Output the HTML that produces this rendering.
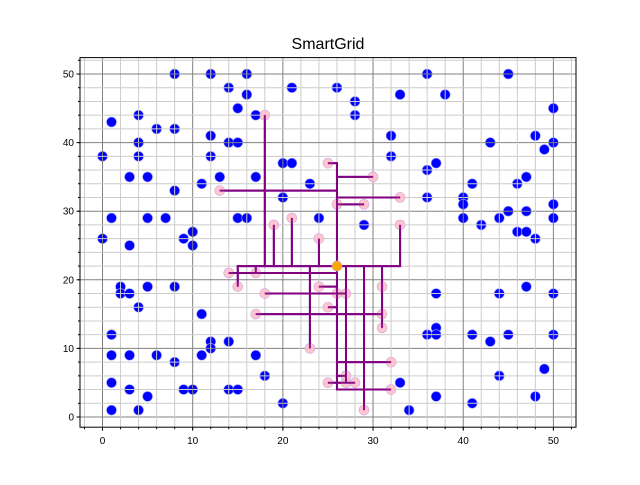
<!DOCTYPE html>
<html><head><meta charset="utf-8"><style>
body{margin:0;background:#fff;width:640px;height:480px;overflow:hidden;font-family:"Liberation Sans","DejaVu Sans",sans-serif}
</style></head><body>
<svg id="chart" width="640" height="480" xmlns="http://www.w3.org/2000/svg"></svg>
<script>
const blueX=[8,12,16,36,45,14,21,26,16,15,17,1,4,6,8,12,4,14,15,0,4,12,20,21,3,5,13,17,11,23,8,20,1,5,7,15,16,24,9,10,0,3,10,
28,28,33,38,50,32,48,43,50,49,32,36,37,41,46,47,36,40,40,50,40,44,50,45,47,29,42,46,47,48,
2,2,3,5,8,4,11,12,12,14,1,1,3,6,11,17,8,18,1,3,9,10,14,15,5,20,1,4,
33,34,37,37,36,37,41,43,45,50,49,44,37,41,48,47,44,50];
const blueY=[50,50,50,50,50,48,48,48,47,45,44,43,44,42,42,41,40,40,40,38,38,38,37,37,35,35,35,35,34,34,33,32,29,29,29,29,29,29,26,27,26,25,25,
46,44,47,47,45,41,41,40,40,39,38,36,37,34,34,35,32,32,31,31,29,29,29,30,30,28,28,27,27,26,
19,18,18,19,19,16,15,11,10,11,12,9,9,9,9,9,8,6,5,4,4,4,4,4,3,2,1,1,
5,1,18,13,12,12,12,11,12,12,7,6,3,2,3,19,18,18];
const pinkX=[18,13,25,30,33,26,29,19,21,24,33,14,17,15,18,24,26,27,25,17,31,31,31,23,32,32,25,27,28,27,29];
const pinkY=[44,33,37,35,32,31,31,28,29,26,28,21,21,19,18,19,18,18,16,15,19,15,13,10,8,4,5,5,5,6,1];
const hubX=[26], hubY=[22];
// wire segments: x1,y1,x2,y2
const segX1=[18,13,25,26,26,26,26,19,21,24,33,15,14,17,15,18,24,25,17,31,23,26,27,29,26,26,25,26];
const segY1=[44,33,37,37,35,32,31,28,29,26,28,22,21,22,22,18,19,16,15,22,22,22,22,22,8,4,5,6];
const segX2=[18,26,26,26,30,33,29,19,21,24,33,33,26,17,15,27,26,26,31,31,23,26,27,29,32,32,28,27];
const segY2=[22,33,37,22,35,32,31,22,22,22,22,22,21,21,19,18,19,16,15,13,10,4,5,1,8,4,5,6];
const xTicks=[0,10,20,30,40,50];
const yTicks=[0,10,20,30,40,50];

const NS="http://www.w3.org/2000/svg";
const svg=document.getElementById('chart');
const L=80,R=576,T=57.6,B=427.2;
const sx=v=>102.5+v*9.018;
const sy=v=>417-v*6.86;
function mk(tag,at,parent){const e=document.createElementNS(NS,tag);for(const k in at)e.setAttribute(k,at[k]);(parent||svg).appendChild(e);return e;}

const title=mk('text',{x:328,y:49,'text-anchor':'middle','font-size':16,fill:'#000'});


title.textContent='SmartGrid';

const gB=mk('g',{});


blueX.forEach((x,i)=>{const c=mk('circle',{cx:sx(x),cy:sy(blueY[i]),r:5,fill:'#0000ff',stroke:'#9b9bff','stroke-width':0.6},gB);

});

const gG=mk('g',{});


for(let v=-2;v<=52;v+=2){const major=v%10===0;
 const st=major?'#808080':'#cccccc',w=major?1:1;
 if(sx(v)>L&&sx(v)<R) mk('line',{x1:sx(v),x2:sx(v),y1:T,y2:B,stroke:st,'stroke-width':w},gG);
 if(sy(v)>T&&sy(v)<B) mk('line',{y1:sy(v),y2:sy(v),x1:L,x2:R,stroke:st,'stroke-width':w},gG);}

const gW=mk('g',{});


segX1.forEach((x,i)=>{const l=mk('line',{x1:sx(x),y1:sy(segY1[i]),x2:sx(segX2[i]),y2:sy(segY2[i]),stroke:'#800080','stroke-width':2,'stroke-linecap':'square'},gW);

});

const gP=mk('g',{});


pinkX.forEach((x,i)=>{const c=mk('circle',{cx:sx(x),cy:sy(pinkY[i]),r:5,fill:'#ffc0cb','fill-opacity':0.9,stroke:'#c8a8e8','stroke-width':0.6},gP);

});
// redraw wire ends over pink (wires visible over markers)
segX1.forEach((x,i)=>{const l=mk('line',{x1:sx(x),y1:sy(segY1[i]),x2:sx(segX2[i]),y2:sy(segY2[i]),stroke:'#800080','stroke-width':2,'stroke-opacity':0.9},gP);

});
hubX.forEach((x,i)=>{const c=mk('circle',{cx:sx(x),cy:sy(hubY[i]),r:5,fill:'#ffa500',stroke:'#c8a8e8','stroke-width':0.6});

});

const frame=mk('rect',{x:L,y:T,width:R-L,height:B-T,fill:'none',stroke:'#000','stroke-width':1});



const gA=mk('g',{});


for(let v=-2;v<=52;v+=2){
 if(sx(v)>L&&sx(v)<R) mk('line',{x1:sx(v),x2:sx(v),y1:B,y2:B+2,stroke:'#000'},gA);
 if(sy(v)>T&&sy(v)<B) mk('line',{x1:L-2,x2:L,y1:sy(v),y2:sy(v),stroke:'#000'},gA);}
xTicks.forEach(v=>{mk('line',{x1:sx(v),x2:sx(v),y1:B,y2:B+3.5,stroke:'#000'},gA);
 const t=mk('text',{x:sx(v),y:B+17,'text-anchor':'middle','font-size':10},gA);
 
 
 t.textContent=v;});
yTicks.forEach(v=>{mk('line',{x1:L-3.5,x2:L,y1:sy(v),y2:sy(v),stroke:'#000'},gA);
 const t=mk('text',{x:L-6,y:sy(v)+3.5,'text-anchor':'end','font-size':10},gA);
 
 
 t.textContent=v;});
</script>
</body></html>
